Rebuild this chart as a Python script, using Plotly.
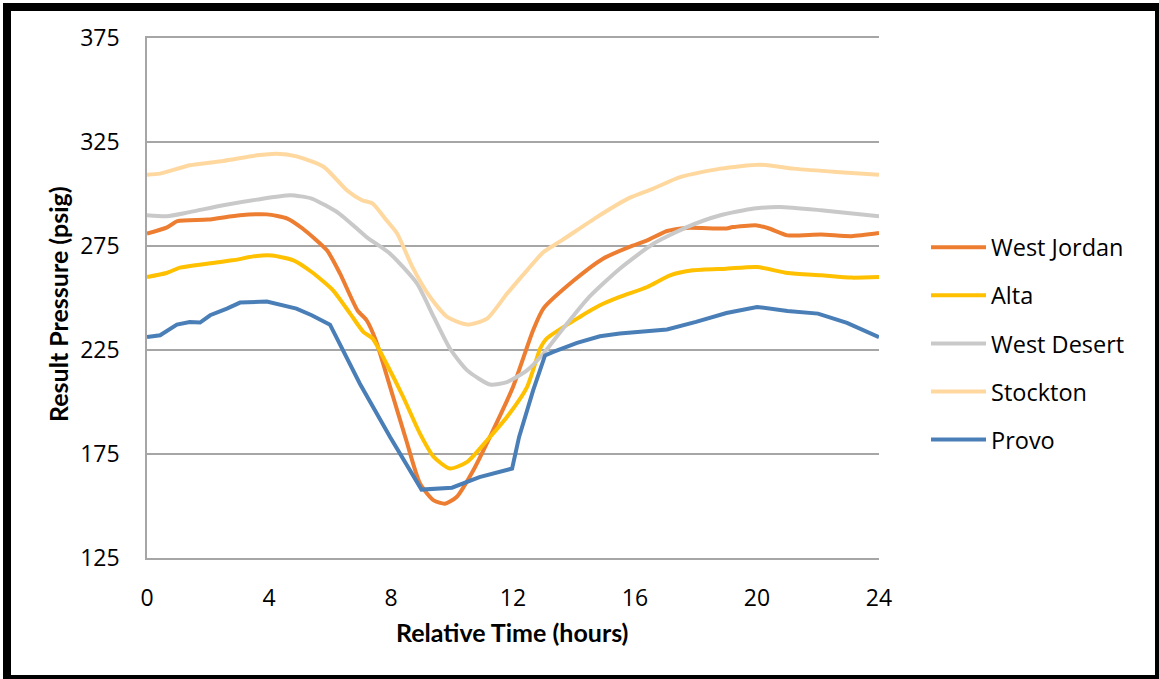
import plotly.graph_objects as go

# ---- data ----
wj_x = [0, 0.64, 1.0, 2.0, 3.05, 3.93, 4.6, 5.1, 5.9, 6.33, 6.9, 7.2, 7.5, 8.07, 8.5, 8.95, 9.4, 9.77,
        10.15, 10.7, 11.35, 12.0, 12.66, 13.0, 14.0, 14.95, 15.8, 16.4, 17.05, 17.7, 19.0, 19.2, 20.0,
        20.4, 21.0, 22.1, 23.1, 24]
wj_y = [281, 283.8, 287, 287.7, 289.8, 290.2, 288.2, 283.4, 272.9, 261.7, 244.1, 239.3, 229.7, 202.4,
        181.6, 160.8, 152.7, 151.1, 154.3, 167.2, 186.5, 207.2, 234.5, 245, 258.5, 268.9, 274.5, 277.7,
        282.2, 283.7, 283.4, 284.1, 284.9, 283.4, 280.1, 280.5, 279.7, 281.2]

alta_x = [0, 0.64, 1.08, 1.97, 2.8, 3.6, 4.1, 4.8, 5.4, 6.1, 6.66, 7.1, 7.4, 7.85, 8.4, 8.95, 9.4, 9.93,
          10.5, 11.15, 11.8, 12.46, 12.9, 13.1, 14.2, 14.85, 15.5, 16.4, 17.15, 17.9, 19, 20, 21, 22.1,
          23.1, 24]
alta_y = [260.1, 262, 264.6, 266.5, 268.1, 270.2, 270.4, 268.1, 262.5, 253.7, 242.5, 233.6, 230.5, 218.5,
          202.4, 184.8, 173.6, 168, 171.2, 181.6, 192.8, 207.2, 226, 230.5, 241, 246.5, 250.5, 255.3,
          260.9, 263.3, 264.1, 264.9, 262, 260.9, 259.8, 260.1]

wd_x = [0, 0.64, 1.4, 2.5, 3.6, 4.7, 5.4, 6.3, 7.2, 7.97, 8.85, 9.4, 9.93, 10.5, 11.25, 11.8, 12.46,
        13.0, 13.6, 14.5, 15.5, 16.6, 17.7, 18.8, 19.9, 20.75, 22.1, 24]
wd_y = [289.8, 289.3, 291.3, 294.6, 297.3, 299.4, 297.8, 290.6, 279.3, 271.3, 257, 240.9, 225.7, 215.2,
        208.4, 209.6, 215.2, 223.3, 234.5, 250.5, 264.1, 276.1, 284.1, 289.8, 293, 293.8, 292.2, 289.3]

st_x = [0, 0.43, 1.4, 2.5, 3.6, 4.26, 4.9, 5.8, 6.55, 7.05, 7.4, 7.85, 8.2, 8.7, 9.28, 9.84, 10.5,
        11.15, 11.8, 12.46, 13.0, 13.6, 14.75, 15.8, 16.6, 17.5, 18.8, 20.1, 21.2, 22.6, 24]
st_y = [309.3, 309.8, 313.8, 315.9, 318.6, 319.4, 318.1, 313, 301.8, 297, 295.4, 287.4, 281, 265, 250.5,
        240.9, 237.2, 240.1, 252, 263.3, 272.1, 277.7, 288.9, 298, 302.6, 308.2, 312.2, 314.1, 312.2,
        310.6, 309.3]

pr_x = [0, 0.43, 0.98, 1.4, 1.74, 2.07, 2.62, 3.05, 3.93, 4.9, 5.4, 6.0, 6.98, 7.97, 9.0, 10.0, 10.9,
        11.97, 12.2, 12.66, 13.05, 13.3, 14.1, 14.85, 15.5, 17.05, 18, 19, 20, 21, 22, 22.95, 24]
pr_y = [231.2, 232.1, 237.2, 238.5, 238.2, 241.7, 244.9, 247.8, 248.3, 244.9, 241.7, 237.2, 208.8, 183.2,
        157.9, 158.8, 163.9, 168, 183.2, 205.6, 222.4, 224, 228.4, 231.6, 232.9, 234.9, 238.5, 242.8,
        245.7, 243.8, 242.5, 238, 231.2]

series_names = ["West Jordan", "Alta", "West Desert", "Stockton", "Provo"]
series_x = [wj_x, alta_x, wd_x, st_x, pr_x]
series_y = [wj_y, alta_y, wd_y, st_y, pr_y]
colors = ["#ED7D31", "#FFC000", "#C9C9C9", "#FFD8A0", "#4A7EB7"]
shapes_line = ["spline", "spline", "spline", "spline", "linear"]

y_ticks = [125, 175, 225, 275, 325, 375]
x_ticks = [0, 4, 8, 12, 16, 20, 24]

# ---- figure ----
W, H = 1159, 679
L, R, T, B = 147, 280, 38, 121
pw, ph = W - L - R, H - T - B

def px(x):
    return (x - L) / pw

def py(y):
    return (H - B - y) / ph

fig = go.Figure()
for i in range(5):
    fig.add_trace(go.Scatter(
        x=series_x[i], y=series_y[i], name=series_names[i], mode="lines",
        line=dict(color=colors[i], width=4, shape=shapes_line[i], smoothing=0.6),
        legendgroup=series_names[i], legendrank=i + 1,
    ))

tick_font = dict(family="Open Sans", size=23, color="#000000")
grid_col = "#A6A6A6"

fig.update_layout(
    width=W, height=H,
    margin=dict(l=L, r=R, t=T, b=B),
    paper_bgcolor="white", plot_bgcolor="white",
    showlegend=True,
    legend=dict(
        x=px(926), y=py(343.5), xanchor="left", yanchor="middle",
        font=dict(family="Open Sans", size=23.5, color="#000000"),
        traceorder="grouped", tracegroupgap=14.5,
        itemwidth=55,
        bgcolor="rgba(0,0,0,0)",
    ),
    xaxis=dict(
        range=[0, 24], tickvals=x_ticks, ticktext=[str(v) for v in x_ticks],
        showgrid=False, zeroline=False, showline=True, mirror=True,
        linecolor=grid_col, linewidth=1.5, ticks="",
        tickfont=tick_font, ticklabelstandoff=19,
    ),
    yaxis=dict(
        range=[125, 375], tickvals=y_ticks, ticktext=[str(v) for v in y_ticks],
        showgrid=True, gridcolor=grid_col, gridwidth=1.5, zeroline=False,
        showline=True, linecolor=grid_col, linewidth=1.5, ticks="",
        tickfont=tick_font, ticklabelstandoff=21,
    ),
    annotations=[
        dict(text="Relative Time (hours)", xref="paper", yref="paper",
             x=px(511.5), y=py(632), xanchor="center", yanchor="middle", showarrow=False,
             font=dict(family="Lato", size=25, color="#000000", weight="bold")),
        dict(text="Result Pressure (psig)", xref="paper", yref="paper",
             x=px(58), y=py(304), xanchor="center", yanchor="middle", showarrow=False,
             textangle=-90,
             font=dict(family="Lato", size=25, color="#000000", weight="bold")),
    ],
    shapes=[
        dict(type="rect", xref="paper", yref="paper",
             x0=px(7), x1=px(1159), y0=py(679), y1=py(7),
             line=dict(color="#000000", width=8), fillcolor="rgba(0,0,0,0)", layer="above"),
    ],
)

fig.write_html("out.html")
